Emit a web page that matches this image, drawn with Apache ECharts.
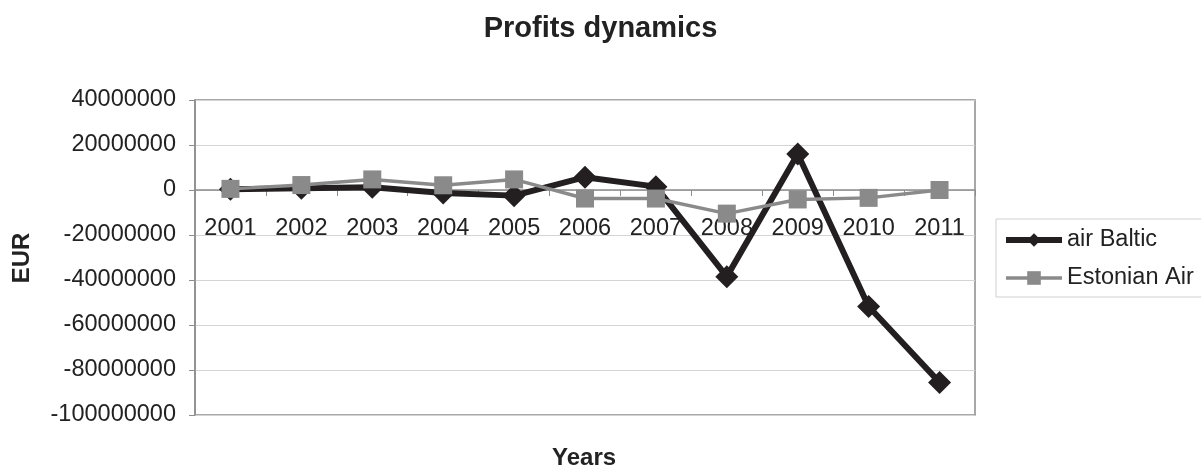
<!DOCTYPE html>
<html>
<head>
<meta charset="utf-8">
<script src="https://cdn.jsdelivr.net/npm/echarts@6/dist/echarts.min.js"></script>
<style>
html,body{margin:0;padding:0;background:#fff;}
#chart{width:1201px;height:468px;}
</style>
</head>
<body>
<div id="chart"></div>
<script>
const years = ['2001','2002','2003','2004','2005','2006','2007','2008','2009','2010','2011'];
const airBaltic = [300000, 800000, 1200000, -1300000, -2500000, 5700000, 1500000, -38500000, 16000000, -51800000, -85500000];
const estonianAir = [500000, 2200000, 4700000, 2100000, 4700000, -3800000, -3800000, -10500000, -4200000, -3500000, 0];
const yTicks = { min: -100000000, max: 40000000, interval: 20000000 };

const font = '"Liberation Sans", Arial, sans-serif';
const chart = echarts.init(document.getElementById('chart'), null, { renderer: 'canvas' });
chart.setOption({
  animation: false,
  backgroundColor: '#fff',
  title: {
    text: 'Profits dynamics',
    left: 'center',
    top: 9,
    textStyle: { fontFamily: font, fontSize: 29, fontWeight: 'bold', color: '#222' }
  },
  graphic: [
    { type: 'text', left: 552, top: 446,
      style: { text: 'Years', fontFamily: font, fontSize: 24, fontWeight: 'bold', fill: '#222' } },
    { type: 'text', x: 22, y: 258, rotation: Math.PI / 2,
      style: { text: 'EUR', fontFamily: font, fontSize: 24, fontWeight: 'bold', fill: '#222',
               align: 'center', verticalAlign: 'middle' } }
  ],
  grid: {
    left: 195, top: 100, right: 226, bottom: 53,
    outerBoundsMode: 'none',
    containLabel: false,
    show: true, borderColor: '#8c8c8c', borderWidth: 1.5, backgroundColor: 'transparent'
  },
  legend: {
    left: 996, top: 219,
    orient: 'vertical',
    padding: [9, 80, 7, 7],
    borderColor: '#cfcfcf', borderWidth: 1,
    itemWidth: 56, itemHeight: 17, itemGap: 14,
    textStyle: { fontFamily: font, fontSize: 23.5, color: '#222', lineHeight: 24 },
    data: [
      { name: 'air Baltic', lineStyle: { width: 6, color: '#231f20' } },
      { name: 'Estonian Air', lineStyle: { width: 3.5, color: '#8a8a8a' } }
    ]
  },
  xAxis: {
    type: 'category',
    data: years,
    position: 'bottom',
    offset: -225,
    axisLine: { onZero: false, lineStyle: { color: '#8c8c8c', width: 1.5 } },
    axisTick: { show: true, length: 6, lineStyle: { color: '#8c8c8c' } },
    axisLabel: { fontFamily: font, fontSize: 23.5, color: '#222', margin: 27 },
    splitLine: { show: false }
  },
  yAxis: {
    type: 'value',
    min: yTicks.min, max: yTicks.max, interval: yTicks.interval,
    axisLine: { show: true, lineStyle: { color: '#8c8c8c', width: 1.5 } },
    axisTick: { show: true, length: 6, lineStyle: { color: '#8c8c8c' } },
    axisLabel: { fontFamily: font, fontSize: 23.5, color: '#222', margin: 19, padding: [6, 0, 0, 0],
                 formatter: function (v) { return String(v); } },
    splitLine: { show: true, lineStyle: { color: '#d4d4d4', width: 1 } }
  },
  series: [
    {
      name: 'air Baltic',
      type: 'line',
      data: airBaltic,
      symbol: 'diamond',
      symbolSize: 23,
      showAllSymbol: true,
      z: 3,
      lineStyle: { color: '#231f20', width: 6 },
      itemStyle: { color: '#231f20' }
    },
    {
      name: 'Estonian Air',
      type: 'line',
      data: estonianAir,
      symbol: 'rect',
      symbolSize: 18,
      showAllSymbol: true,
      z: 4,
      lineStyle: { color: '#8a8a8a', width: 3.5 },
      itemStyle: { color: '#8a8a8a' }
    }
  ]
});
</script>
</body>
</html>
